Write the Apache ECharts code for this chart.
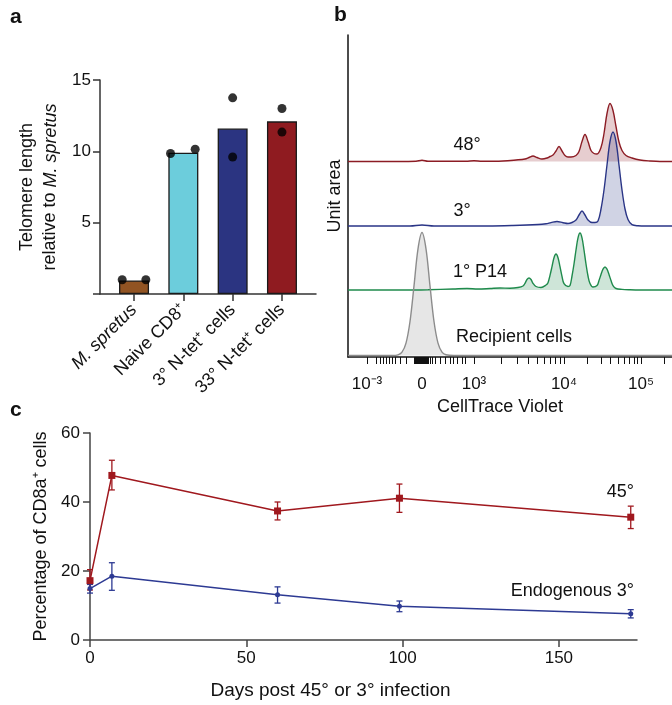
<!DOCTYPE html>
<html>
<head>
<meta charset="utf-8">
<title>Telomere length, CTV dilution, CD8a+ kinetics</title>
<style>
  html, body { margin: 0; padding: 0; background: #fff; }
  #chart { width: 672px; height: 705px; }
</style>
</head>
<body>
<div id="chart"></div>
<script src="https://cdn.jsdelivr.net/npm/echarts@6/dist/echarts.min.js"></script>
<script>
var FONT = '"Liberation Sans", Arial, Helvetica, sans-serif';

// ---- panel a: telomere length relative to M. spretus
var telCats = ['M. spretus', 'Naive CD8⁺', '3° N-tet⁺ cells', '33° N-tet⁺ cells'];
var telMeans = [0.95, 9.9, 11.6, 12.1];
var telDotCat = [0, 0, 1, 1, 2, 2, 3, 3];
var telDotVal = [1.0, 1.0, 9.85, 10.15, 13.75, 9.6, 13.0, 11.35];
var telDotJitter = [-0.24, 0.24, -0.26, 0.24, 0, 0, 0, 0];
var telColors = ['#925423', '#6ccddc', '#2b3481', '#8f1b20'];

// ---- panel b: CellTrace Violet histograms (x in display channel, y = unit-area height)
var ctvTickLabels = ['10⁻³', '0', '10³', '10⁴', '10⁵'];
var ctvMajor = [19, 74, 126, 216, 293];
var ctvMinor = [28, 32, 35, 38, 41, 44, 47, 52, 58,
  66, 67, 68, 69, 70, 71, 72, 73, 75, 76, 77, 78, 79, 80, 82,
  84, 87, 92, 97, 102, 105, 109, 114, 117,
  153, 169, 180, 189, 196, 202, 207, 212,
  239, 253, 262, 270, 276, 281, 286, 289, 316];
var histNames = ['48°', '3°', '1° P14', 'Recipient cells'];
var hist48 = [[0,0],[50,0],[68,0.2],[74,1.2],[80,0.2],[118,0.2],[126,0.8],[134,0.2],[155,0.5],[168,1.5],
  [177,2.5],[181,4],[185,5.5],[189,4],[194,2.5],[199,3.5],[202,5],[205,6.5],[208,10.5],[211,15],[214,10.5],
  [217,6],[220,4.5],[223,4.5],[228,6],[231,10],[234,20],[237,27],[240,20],[243,11],[246,8],[249,7.5],
  [253,14],[256,28],[259,48],[262,58],[265,51],[268,35],[271,19.5],[274,11],[278,6],[284,3.5],[292,1.5],
  [302,0.5],[312,0],[324,0]];
var hist3 = [[0,0],[62,0],[74,1],[86,0],[140,0],[165,0.5],[190,1.5],[198,2.3],[203,3.4],[209,4.5],[215,3.3],
  [220,2.5],[224,3.5],[228,6],[231,11],[234,15],[237,11],[240,6],[244,3.5],[247,3.5],[250,5],[253,17],
  [256,36],[259,61],[262,84.5],[265,94],[268,84.5],[271,61],[274,36],[277,17],[280,6.5],[284,1.3],
  [290,0.2],[298,0],[324,0]];
var hist1 = [[0,0],[55,0],[80,0.3],[105,1],[119,1.5],[130,1],[142,1.5],[152,2],[162,1.8],[170,2.5],
  [175,4],[177,6.7],[179,10.5],[181,12],[183,10.5],[185,6.7],[188,3.5],[193,2.5],[198,5],[200,7.3],
  [202,14.7],[204,23.3],[206,32.3],[208,36],[210,32.3],[212,23.3],[214,13.7],[216,6.3],[220,3.5],[222,4.5],
  [224,14],[226,26],[228,40],[230,52.2],[232,57],[234,52.2],[236,40],[238,26],[240,14],[242,6.5],[245,3],
  [249,4.4],[251,9.4],[253,15.5],[255,20.8],[257,23],[259,20.8],[261,15.5],[263,9.4],[265,4.4],[268,1.5],
  [274,0.6],[282,0.2],[292,0],[324,0]];
var histRecip = [[0,0],[45,0],[50,0.7],[54,3.4],[58,12.4],[62,34],[66,69.6],[70,106.7],[74,123],[78,106.7],
  [82,69.6],[86,34],[90,12.4],[94,3.4],[98,0.7],[106,0],[324,0]];

// ---- panel c: percentage of CD8a+ cells over time
var days = [0, 7, 60, 99, 173];
var pct45 = [17.2, 47.7, 37.4, 41.1, 35.6];
var pct45Lo = [14.5, 43.5, 34.8, 37.0, 32.3];
var pct45Hi = [20.4, 52.1, 40.0, 45.2, 38.8];
var pct3 = [14.9, 18.5, 13.1, 9.8, 7.6];
var pct3Lo = [13.6, 14.4, 10.7, 8.2, 6.4];
var pct3Hi = [16.1, 22.4, 15.4, 11.3, 8.8];

var histColors = ['#8c1c24', '#2a3586', '#1f8a4c', '#8c8c8c'];
var histOffsets = [195.5, 131, 67, 1.5];
var histData = [hist48, hist3, hist1, histRecip];

function histSeries(i) {
  var off = histOffsets[i];
  return {
    type: 'line', name: histNames[i], xAxisIndex: 1, yAxisIndex: 1,
    data: histData[i].map(function (p) { return [p[0], p[1] + off]; }),
    showSymbol: false, smooth: 0.35,
    lineStyle: { color: histColors[i], width: 1.4 },
    areaStyle: { color: histColors[i], opacity: 0.22, origin: off },
    silent: true
  };
}

function errSeries(lo, hi, color) {
  return {
    type: 'custom', xAxisIndex: 2, yAxisIndex: 2, silent: true, z: 3,
    data: days.map(function (d, i) { return [d, lo[i], hi[i]]; }),
    renderItem: function (params, api) {
      var a = api.coord([api.value(0), api.value(1)]);
      var b = api.coord([api.value(0), api.value(2)]);
      var w = 3, st = { stroke: color, lineWidth: 1.3 };
      return { type: 'group', children: [
        { type: 'line', shape: { x1: a[0], y1: a[1], x2: b[0], y2: b[1] }, style: st },
        { type: 'line', shape: { x1: a[0] - w, y1: a[1], x2: a[0] + w, y2: a[1] }, style: st },
        { type: 'line', shape: { x1: b[0] - w, y1: b[1], x2: b[0] + w, y2: b[1] }, style: st }
      ] };
    }
  };
}

function label(text, x, y, opt) {
  opt = opt || {};
  return {
    type: 'text', x: x, y: y, silent: true,
    style: {
      text: text, fill: '#111',
      font: (opt.weight || 'normal') + ' ' + (opt.size || 18) + 'px ' + FONT,
      align: opt.align || 'left', textAlign: opt.align || 'left',
      verticalAlign: 'middle', textVerticalAlign: 'middle'
    }
  };
}

option = {
  animation: false,
  backgroundColor: '#fff',
  textStyle: { fontFamily: FONT },
  grid: [
    { left: 100, top: 80, width: 216, height: 214 },
    { left: 348, top: 35, width: 324, height: 322 },
    { left: 90, top: 433, width: 547, height: 207 }
  ],
  xAxis: [
    {
      type: 'value', gridIndex: 0, min: -0.69, max: 3.69,
      splitLine: { show: false },
      axisLine: { lineStyle: { color: '#333', width: 1.5 } },
      axisTick: { customValues: [0, 1, 2, 3], length: 7, lineStyle: { color: '#333', width: 1.5 } },
      axisLabel: {
        customValues: [0, 1, 2, 3], rotate: 45, margin: 13, color: '#111', fontFamily: FONT, fontSize: 18,
        formatter: function (v) { return telCats[Math.round(v)].replace('M. spretus', '{i|M. spretus}'); },
        rich: { i: { fontStyle: 'italic', fontSize: 18, fontFamily: FONT, color: '#111' } }
      }
    },
    {
      type: 'value', gridIndex: 1, min: 0, max: 324,
      splitLine: { show: false },
      axisLine: { lineStyle: { color: '#111', width: 1.5 } },
      axisTick: { customValues: ctvMajor.concat(ctvMinor), length: 7, lineStyle: { color: '#111', width: 1 } },
      axisLabel: {
        customValues: ctvMajor, margin: 19, color: '#111', fontFamily: FONT, fontSize: 17,
        formatter: function (v) { return ctvTickLabels[ctvMajor.indexOf(v)]; }
      },
      name: 'CellTrace Violet', nameLocation: 'middle', nameGap: 41,
      nameTextStyle: { color: '#111', fontFamily: FONT, fontSize: 18, padding: [0, 20, 0, 0] }
    },
    {
      type: 'value', gridIndex: 2, min: 0, max: 175,
      splitLine: { show: false },
      axisLine: { lineStyle: { color: '#444', width: 1.5 } },
      axisTick: { customValues: [0, 50, 100, 150], length: 7, lineStyle: { color: '#444', width: 1.5 } },
      axisLabel: { customValues: [0, 50, 100, 150], margin: 10, color: '#111', fontFamily: FONT, fontSize: 17 },
      name: 'Days post 45° or 3° infection', nameLocation: 'middle', nameGap: 41,
      nameTextStyle: { color: '#111', fontFamily: FONT, fontSize: 19, padding: [0, 66, 0, 0] }
    }
  ],
  yAxis: [
    {
      type: 'value', gridIndex: 0, min: 0, max: 15, interval: 5,
      splitLine: { show: false },
      axisLine: { show: true, onZero: false, lineStyle: { color: '#333', width: 1.5 } },
      axisTick: { show: true, length: 7, lineStyle: { color: '#333', width: 1.5 } },
      axisLabel: { margin: 9, color: '#111', fontFamily: FONT, fontSize: 17,
        formatter: function (v) { return v === 0 ? '' : v; } },
      name: '{n|Telomere length}\n{n|relative to }{i|M. spretus}',
      nameLocation: 'middle', nameRotate: 90, nameGap: 38,
      nameTextStyle: {
        rich: {
          n: { fontFamily: FONT, fontSize: 18, color: '#111', lineHeight: 23 },
          i: { fontFamily: FONT, fontSize: 18, color: '#111', fontStyle: 'italic', lineHeight: 23 }
        }
      }
    },
    {
      type: 'value', gridIndex: 1, min: 0, max: 322,
      splitLine: { show: false },
      axisLine: { show: true, onZero: false, lineStyle: { color: '#111', width: 1.5 } },
      axisTick: { show: false }, axisLabel: { show: false },
      name: 'Unit area', nameLocation: 'middle', nameRotate: 90, nameGap: 4,
      nameTextStyle: { color: '#111', fontFamily: FONT, fontSize: 18 }
    },
    {
      type: 'value', gridIndex: 2, min: 0, max: 60, interval: 20,
      splitLine: { show: false },
      axisLine: { show: true, onZero: false, lineStyle: { color: '#444', width: 1.5 } },
      axisTick: { show: true, length: 7, lineStyle: { color: '#444', width: 1.5 } },
      axisLabel: { margin: 10, color: '#111', fontFamily: FONT, fontSize: 17 },
      name: 'Percentage of CD8a⁺ cells', nameLocation: 'middle', nameRotate: 90, nameGap: 39,
      nameTextStyle: { color: '#111', fontFamily: FONT, fontSize: 18 }
    }
  ],
  series: [
    {
      type: 'bar', xAxisIndex: 0, yAxisIndex: 0, barWidth: 30, silent: true,
      data: telMeans.map(function (v, i) {
        return { value: [i, v], itemStyle: { color: telColors[i], borderColor: '#1a1a1a', borderWidth: 1.3 } };
      })
    },
    {
      type: 'scatter', xAxisIndex: 0, yAxisIndex: 0, symbolSize: 9, silent: true, z: 4,
      itemStyle: { color: '#000' },
      data: telDotVal.map(function (v, i) { return [telDotCat[i] + telDotJitter[i], v]; })
    },
    histSeries(0), histSeries(1), histSeries(2), histSeries(3),
    errSeries(pct45Lo, pct45Hi, '#a0181e'),
    errSeries(pct3Lo, pct3Hi, '#2d3a93'),
    {
      type: 'line', name: '45°', xAxisIndex: 2, yAxisIndex: 2, silent: true, z: 4,
      data: days.map(function (d, i) { return [d, pct45[i]]; }),
      symbol: 'rect', symbolSize: 7, showSymbol: true,
      lineStyle: { color: '#a0181e', width: 1.5 }, itemStyle: { color: '#a0181e' }
    },
    {
      type: 'line', name: 'Endogenous 3°', xAxisIndex: 2, yAxisIndex: 2, silent: true, z: 4,
      data: days.map(function (d, i) { return [d, pct3[i]]; }),
      symbol: 'circle', symbolSize: 5, showSymbol: true,
      lineStyle: { color: '#2d3a93', width: 1.5 }, itemStyle: { color: '#2d3a93' }
    }
  ],
  graphic: [
    label('a', 10, 17, { weight: 'bold', size: 21 }),
    label('b', 334, 15, { weight: 'bold', size: 21 }),
    label('c', 10, 410, { weight: 'bold', size: 21 }),
    label(histNames[0], 467, 145, { align: 'center' }),
    label(histNames[1], 462, 211, { align: 'center' }),
    label(histNames[2], 480, 272, { align: 'center' }),
    label(histNames[3], 514, 337, { align: 'center' }),
    label('45°', 634, 492, { align: 'right' }),
    label('Endogenous 3°', 634, 591, { align: 'right' })
  ]
};

var chart = echarts.init(document.getElementById('chart'), null, { renderer: 'canvas' });
chart.setOption(option);
</script>
</body>
</html>
